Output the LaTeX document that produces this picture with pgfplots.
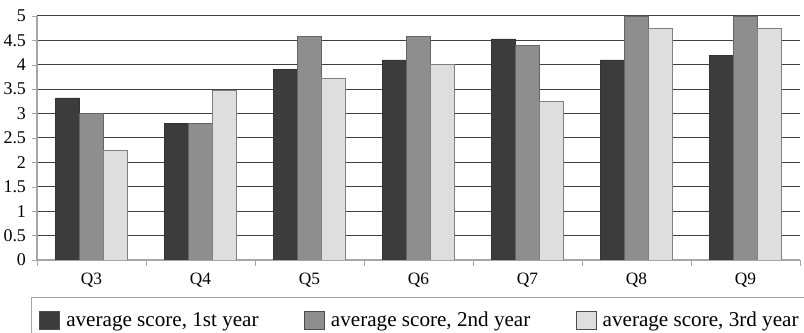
\documentclass[border=0pt]{standalone}
\usepackage{pgfplots}
\pgfplotsset{compat=1.18}
\usepackage{fontspec}
\setmainfont{Liberation Serif}
\usetikzlibrary{calc}
\definecolor{cA}{HTML}{3C3C3C}
\definecolor{cB}{HTML}{8E8E8E}
\definecolor{cC}{HTML}{DEDEDE}
\begin{document}
\fontsize{8.5}{10}\selectfont
\begin{tikzpicture}
\begin{axis}[name=ax,
  scale only axis, width=381.5bp, height=122bp,
  ymin=0, ymax=5, ytick={0,0.5,...,5},
  yticklabel style={/pgf/number format/fixed, /pgf/number format/assume math mode=true, font=\fontsize{9}{10}\selectfont},
  xmin=-0.5, xmax=6.5,
  xtick={0,...,6}, xticklabels={Q3,Q4,Q5,Q6,Q7,Q8,Q9},
  xticklabel style={font=\fontsize{8.7}{10}\selectfont, yshift=-1bp},
  major x tick style={draw=none},
  minor xtick={-0.5,0.5,...,6.5},
  minor tick length=3bp,
  major tick length=2.5bp,
  tick align=outside,
  ymajorgrids, grid style={black!75, line width=0.5pt},
  axis x line*=bottom, axis y line*=left,
  axis line style={gray!70, line width=0.6pt},
  tick style={gray!70},
  ybar=0pt, bar width=0.22,
  legend style={at={(axis description cs:0,0)}, anchor=north west, xshift=-3bp, yshift=-18.7bp,
    legend columns=3,
    draw=gray!70, line width=0.5pt, font=\fontsize{10.6}{12}\selectfont,
    inner xsep=4bp, inner ysep=5bp,
    /tikz/every odd column/.append style={column sep=1bp},
    /tikz/every even column/.append style={column sep=20.8bp}},
  legend image code/.code={\draw[#1, draw=black!70] (0bp,-4.5bp) rectangle (10bp,4.5bp);},
]
\addplot[fill=cA, draw=black!80, line width=0.4pt] coordinates {(0,3.32) (1,2.8) (2,3.9) (3,4.1) (4,4.53) (5,4.1) (6,4.2)};
\addplot[fill=cB, draw=black!60, line width=0.4pt] coordinates {(0,3.0) (1,2.8) (2,4.58) (3,4.58) (4,4.4) (5,5.0) (6,5.0)};
\addplot[fill=cC, draw=black!50, line width=0.4pt] coordinates {(0,2.25) (1,3.48) (2,3.73) (3,4.0) (4,3.24) (5,4.75) (6,4.75)};
\legend{{average score, 1st year}, {average score, 2nd year}, {average score, 3rd year}}
\end{axis}
\pgfresetboundingbox
\path[use as bounding box] ($(ax.south west)+(-18.5bp,-36.5bp)$) rectangle ($(ax.north east)+(2bp,8bp)$);
\end{tikzpicture}
\end{document}
